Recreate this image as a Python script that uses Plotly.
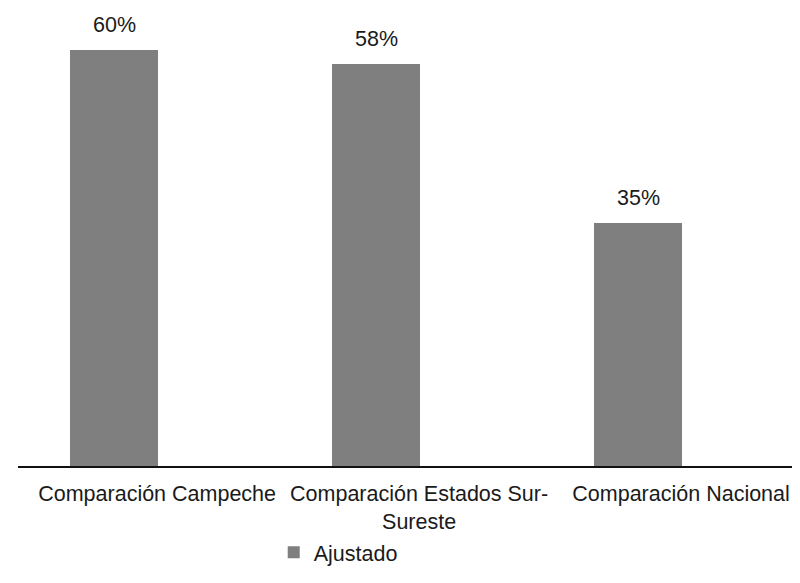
import plotly.graph_objects as go

categories = ["Comparación Campeche", "Comparación Estados Sur-Sureste", "Comparación Nacional"]
tick_labels = ["Comparación Campeche", "Comparación Estados Sur-<br>Sureste", "Comparación Nacional"]
values = [60, 58, 35]
series_name = "Ajustado"

BAR_COLOR = "#7f7f7f"
TEXT_COLOR = "#1a1a1a"
FONT = "Liberation Sans, Arial, sans-serif"
FS = 21.5

bar_width = 0.336
bar_offset = -0.332

fig = go.Figure()
fig.add_trace(go.Bar(
    x=list(range(len(categories))),
    y=values,
    name=series_name,
    marker=dict(color=BAR_COLOR, line=dict(width=0)),
    width=[bar_width] * len(values),
    offset=[bar_offset] * len(values),
    showlegend=True,
    hoverinfo="skip",
))

for i, v in enumerate(values):
    fig.add_annotation(
        x=i + bar_offset + bar_width / 2, y=v, text=f"{v}%",
        showarrow=False, yshift=25, yanchor="middle",
        font=dict(size=FS, color=TEXT_COLOR, family=FONT),
    )

# page body has an 8px margin, so the figure is 8px smaller and top/left margins compensate
fig.update_layout(
    width=792, height=575,
    margin=dict(l=10, r=0, t=2, b=117),
    plot_bgcolor="white", paper_bgcolor="white",
    font=dict(family=FONT, size=FS, color=TEXT_COLOR),
    xaxis=dict(
        range=[-0.531, 2.454],
        tickmode="array", tickvals=list(range(len(categories))), ticktext=tick_labels,
        showline=True, linecolor="#111111", linewidth=1.5,
        showgrid=False, zeroline=False, ticks="",
        ticklabelstandoff=7, automargin=False,
        tickfont=dict(size=FS, color=TEXT_COLOR, family=FONT),
    ),
    yaxis=dict(range=[0, 65.8], visible=False, showgrid=False, zeroline=False,
               automargin=False),
    legend=dict(
        orientation="h", x=0.327, y=-0.189, xanchor="left", yanchor="middle",
        font=dict(size=FS, color=TEXT_COLOR, family=FONT),
        itemwidth=30,
    ),
    bargap=0,
)

fig.write_html("out.html")
